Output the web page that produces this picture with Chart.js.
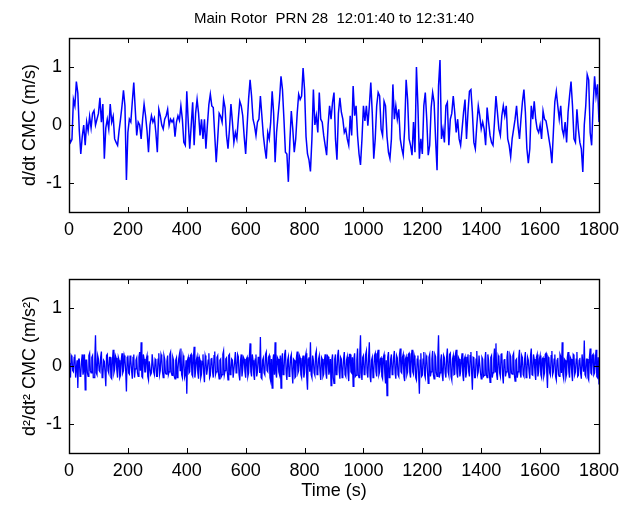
<!DOCTYPE html>
<html>
<head>
<meta charset="utf-8">
<script src="https://cdn.jsdelivr.net/npm/chart.js@4/dist/chart.umd.min.js"></script>
<style>
  body { margin: 0; background: #fff; }
  #wrap { position: relative; width: 634px; height: 506px; background: #fff; }
  canvas { position: absolute; left: 0; }
  #rate-chart { top: 0; }
  #accel-chart { top: 240px; }
</style>
</head>
<body>
<div id="wrap">
  <canvas id="rate-chart" width="634" height="240"></canvas>
  <canvas id="accel-chart" width="634" height="266"></canvas>
</div>
<script>
// Main rotor CMC, PRN 28

var rateStep = 5;    // seconds between readings, top panel
var accelStep = 2.5; // seconds between readings, bottom panel
var xTicks = [0, 200, 400, 600, 800, 1000, 1200, 1400, 1600, 1800];
var yTicks = [-1, 0, 1];

// d/dt CMC (m/s)
var rateValues = [
  -0.2, -0.3, -0.25, 0.44, 0.33, 0.75, 0.55, -0.1, -0.5, -0.2, 0.0, -0.35, 0.05, -0.1, 0.15, -0.05, 0.2, 0.25, 0.0, 0.1,
  0.2, 0.47, 0.05, 0.36, -0.58, -0.05, 0.1, -0.07, 0.36, 0.05, 0.15, -0.24, -0.3, -0.35, -0.1, 0.1, 0.33, 0.6, 0.33, -0.95,
  -0.13, 0.1, 0.05, 0.4, 0.73, 0.27, -0.18, 0.05, 0.0, -0.24, 0.1, 0.36, 0.16, -0.1, -0.47, 0.0, 0.16, 0.05, 0.12, -0.13,
  -0.47, 0.27, 0.16, 0.0, -0.07, 0.1, 0.16, 0.27, -0.01, 0.1, 0.05, 0.1, -0.2, 0.05, 0.16, 0.08, 0.33, 0.1, -0.3, -0.35,
  0.58, 0.05, -0.41, -0.01, 0.39, -0.35, 0.2, 0.44, 0.2, -0.18, 0.1, -0.24, 0.1, -0.41, 0.0, 0.35, 0.53, 0.33, 0.3, -0.18,
  -0.64, -0.24, 0.2, 0.15, 0.05, 0.44, 0.3, -0.18, -0.41, -0.07, 0.36, 0.05, -0.3, -0.13, -0.24, 0.1, 0.41, 0.33, 0.16, -0.2,
  -0.5, -0.01, 0.45, 0.78, 0.5, 0.1, -0.01, -0.18, 0.05, 0.1, 0.5, 0.16, -0.18, -0.4, -0.58, -0.13, -0.24, 0.05, 0.58, 0.2,
  -0.64, -0.13, 0.16, 0.44, 0.84, 0.61, 0.1, -0.47, -0.5, -0.98, -0.3, 0.24, -0.07, -0.47, -0.24, 0.2, 0.53, 0.44, 0.5, 0.98,
  0.61, -0.2, -0.5, -0.6, -0.8, -0.24, 0.61, 0.0, 0.16, -0.13, 0.56, 0.1, 0.05, -0.18, -0.35, -0.52, 0.0, 0.33, 0.1, 0.39,
  0.56, -0.24, -0.6, 0.2, 0.47, 0.22, 0.1, -0.13, -0.07, -0.24, -0.35, 0.16, -0.18, 0.67, 0.16, 0.33, -0.18, -0.5, -0.69, -0.24,
  0.33, 0.07, 0.33, -0.01, 0.33, 0.73, 0.2, -0.58, -0.24, 0.33, 0.56, 0.5, -0.07, -0.18, 0.41, 0.33, -0.2, -0.47, -0.58, -0.24,
  0.7, 0.1, 0.33, 0.1, 0.27, -0.24, -0.4, -0.52, -0.07, 0.78, 0.44, -0.24, -0.35, -0.52, 0.05, -0.47, 1.0, 0.33, -0.58, -0.24,
  -0.5, 0.33, 0.56, 0.1, -0.52, -0.35, 0.3, 0.56, 0.39, -0.24, -0.78, 0.67, 1.12, -0.24, -0.07, -0.3, 0.33, 0.39, -0.35, 0.1,
  0.2, 0.5, 0.22, -0.13, 0.1, -0.24, -0.35, -0.07, 0.22, 0.44, -0.24, 0.22, 0.58, 0.61, 0.22, -0.3, -0.41, 0.0, 0.33, 0.16,
  -0.07, 0.05, -0.07, -0.35, 0.3, 0.05, -0.18, -0.3, -0.35, 0.05, 0.5, 0.22, -0.07, -0.18, 0.16, 0.33, 0.16, 0.33, -0.24, -0.35,
  -0.55, -0.24, -0.07, 0.1, 0.33, -0.01, -0.24, 0.1, 0.4, 0.61, 0.22, -0.4, -0.66, -0.41, 0.33, 0.1, 0.41, 0.1, -0.07, -0.13,
  0.0, -0.24, 0.24, 0.1, 0.07, -0.07, -0.24, -0.4, -0.66, -0.13, 0.4, 0.58, 0.33, 0.1, 0.33, -0.07, -0.18, 0.05, -0.3, 0.22,
  0.5, 0.75, 0.33, -0.24, -0.3, 0.27, -0.07, -0.3, -0.41, -0.81, 0.0, 0.33, 0.87, 0.78, -0.13, -0.35, 0.33, 0.84, 0.5, 0.7,
  0.05
];

// d2/dt2 CMC (m/s^2), one row per 100 s
var accelValues = [
  0.05, -0.12, -0.2, 0.18, 0.15, -0.08, -0.1, 0.15, 0.2, -0.2, -0.05, 0.1, -0.38, 0.12, 0.12, -0.18, -0.15, 0.08, 0.2, -0.15,
  -0.08, 0.2, -0.41, 0.1, 0.1, -0.12, -0.18, 0.18, 0.22, -0.08, -0.12, 0.15, 0.18, -0.2, -0.2, 0.1, 0.53, -0.12, -0.15, 0.18,
  0.12, -0.08, -0.1, 0.15, 0.25, -0.2, -0.18, 0.1, 0.08, -0.12, -0.35, 0.18, 0.2, -0.08, -0.12, 0.15, 0.15, -0.2, -0.22, 0.1,
  0.28, -0.12, -0.06, 0.18, 0.14, -0.08, -0.2, 0.15, 0.1, -0.2, -0.16, 0.1, 0.22, -0.12, -0.08, 0.18, 0.12, -0.08, -0.44, 0.15,
  0.18, -0.12, -0.14, 0.18, 0.1, -0.08, -0.22, 0.15, 0.2, -0.2, -0.05, 0.1, 0.14, -0.12, -0.18, 0.15, 0.24, -0.08, 0.41, -0.18,
  -0.2, 0.2, 0.12, -0.1, -0.1, 0.12, 0.18, -0.18, -0.24, 0.08, 0.08, -0.15, -0.12, 0.2, 0.2, -0.1, -0.15, 0.12, 0.1, -0.18,
  -0.18, 0.12, 0.22, -0.15, -0.08, 0.2, 0.15, -0.1, -0.2, 0.18, 0.12, -0.12, -0.14, 0.08, 0.18, -0.15, -0.1, 0.2, 0.24, -0.12,
  -0.16, 0.15, 0.1, -0.18, -0.22, 0.1, 0.14, -0.2, -0.06, 0.12, 0.2, -0.08, 0.3, -0.15, -0.2, 0.18, 0.12, -0.2, -0.15, 0.1,
  -0.48, 0.1, 0.15, -0.12, -0.1, 0.18, 0.2, -0.15, -0.18, 0.12, 0.33, -0.2, -0.08, 0.1, 0.16, -0.12, -0.22, 0.15, 0.1, -0.2,
  -0.14, 0.08, 0.2, -0.12, -0.28, 0.18, 0.12, -0.15, -0.06, 0.1, 0.22, -0.2, -0.16, 0.12, 0.14, -0.1, -0.2, 0.18, 0.25, -0.15,
  -0.1, 0.15, 0.18, -0.12, -0.22, 0.1, 0.12, -0.18, -0.15, 0.2, 0.26, -0.15, -0.08, 0.12, 0.14, -0.1, -0.24, 0.18, 0.2, -0.15,
  -0.12, 0.12, 0.1, -0.2, -0.2, 0.08, 0.24, -0.12, -0.1, 0.2, 0.16, -0.15, -0.25, 0.1, 0.2, -0.18, -0.06, 0.15, 0.12, -0.1,
  -0.2, 0.12, 0.15, -0.18, -0.12, 0.15, 0.39, -0.1, -0.18, 0.2, 0.1, -0.15, -0.24, 0.12, 0.2, -0.18, -0.1, 0.15, 0.16, -0.12,
  0.5, -0.2, -0.22, 0.1, 0.14, -0.12, -0.15, 0.2, 0.24, -0.08, -0.1, 0.15, 0.18, -0.2, -0.26, 0.12, -0.38, 0.1, 0.2, -0.15,
  0.41, -0.12, -0.2, 0.15, 0.12, -0.1, -0.15, 0.18, -0.38, 0.12, 0.22, -0.15, -0.1, 0.2, 0.28, -0.12, -0.24, 0.1, 0.16, -0.18,
  -0.12, 0.15, 0.2, -0.1, -0.3, 0.12, 0.1, -0.2, -0.18, 0.15, 0.25, -0.12, -0.08, 0.18, 0.14, -0.15, -0.2, 0.1, 0.18, -0.2,
  -0.12, 0.15, 0.22, -0.2, -0.41, 0.12, 0.15, -0.1, 0.41, -0.15, -0.2, 0.18, 0.1, -0.12, -0.16, 0.2, 0.26, -0.15, -0.1, 0.12,
  0.18, -0.1, -0.24, 0.15, 0.12, -0.18, -0.14, 0.1, 0.2, -0.12, -0.22, 0.18, 0.16, -0.15, -0.08, 0.12, -0.34, 0.1, 0.2, -0.2,
  -0.3, 0.12, 0.2, -0.15, -0.14, 0.18, 0.28, -0.1, -0.22, 0.15, 0.12, -0.2, -0.1, 0.12, 0.24, -0.15, -0.18, 0.1, 0.16, -0.12,
  -0.26, 0.2, 0.2, -0.1, -0.12, 0.15, -0.35, 0.12, 0.22, -0.18, -0.16, 0.1, 0.3, -0.15, -0.2, 0.2, 0.53, -0.12, -0.24, 0.15,
  0.18, -0.15, -0.14, 0.2, 0.26, -0.12, -0.2, 0.15, 0.41, -0.18, -0.28, 0.1, 0.15, -0.2, -0.12, 0.18, 0.22, -0.1, -0.18, 0.2,
  0.28, -0.15, -0.1, 0.12, 0.14, -0.18, -0.22, 0.15, 0.2, -0.12, -0.3, 0.1, -0.51, 0.15, 0.24, -0.2, -0.16, 0.12, 0.2, -0.15,
  -0.1, 0.15, 0.26, -0.12, -0.22, 0.18, 0.14, -0.15, -0.18, 0.2, 0.3, -0.1, -0.12, 0.15, 0.2, -0.18, -0.26, 0.12, 0.16, -0.15,
  -0.1, 0.2, 0.22, -0.12, -0.2, 0.15, 0.28, -0.1, -0.14, 0.18, 0.12, -0.2, -0.24, 0.12, 0.18, -0.15, -0.48, 0.1, 0.22, -0.18,
  -0.16, 0.12, 0.24, -0.15, -0.2, 0.18, 0.14, -0.1, -0.3, 0.15, 0.2, -0.18, -0.1, 0.12, 0.26, -0.15, -0.22, 0.2, 0.16, -0.12,
  -0.18, 0.15, 0.53, -0.2, -0.12, 0.1, 0.2, -0.15, -0.26, 0.18, 0.14, -0.12, -0.2, 0.15, 0.3, -0.1, -0.16, 0.2, 0.22, -0.18,
  -0.24, 0.12, 0.18, -0.15, -0.14, 0.2, 0.28, -0.12, -0.2, 0.15, 0.12, -0.18, -0.1, 0.1, 0.22, -0.15, -0.26, 0.12, 0.16, -0.2,
  -0.12, 0.15, 0.2, -0.1, -0.18, 0.18, 0.24, -0.12, -0.41, 0.15, 0.14, -0.2, -0.2, 0.12, 0.26, -0.15, -0.1, 0.18, 0.18, -0.12,
  -0.22, 0.15, 0.12, -0.18, -0.16, 0.1, 0.24, -0.15, -0.2, 0.2, 0.1, -0.12, -0.28, 0.15, 0.18, -0.2, -0.12, 0.12, 0.3, -0.1,
  0.39, -0.15, -0.24, 0.18, 0.14, -0.12, -0.18, 0.2, 0.22, -0.15, -0.3, 0.1, 0.12, -0.18, -0.1, 0.15, 0.26, -0.12, -0.2, 0.2,
  0.16, -0.12, -0.14, 0.18, 0.22, -0.15, -0.26, 0.1, 0.12, -0.2, -0.1, 0.15, 0.28, -0.12, -0.2, 0.18, 0.14, -0.15, -0.18, 0.12,
  0.24, -0.2, -0.12, 0.15, 0.1, -0.1, -0.22, 0.18, 0.3, -0.15, -0.16, 0.2, 0.12, -0.12, -0.24, 0.15, 0.2, -0.18, -0.1, 0.12,
  0.18, -0.15, -0.2, 0.12, 0.14, -0.18, -0.12, 0.2, 0.22, -0.1, -0.38, 0.15, 0.12, -0.12, -0.16, 0.18, 0.26, -0.15, -0.1, 0.12,
  0.2, -0.18, -0.24, 0.1, 0.14, -0.15, -0.18, 0.2, 0.16, -0.12, 0.41, -0.15, -0.22, 0.12, 0.1, -0.2, -0.14, 0.15, 0.24, -0.1,
  -0.2, 0.15, 0.12, -0.12, -0.26, 0.2, 0.18, -0.15, -0.1, 0.12, 0.24, -0.18, -0.16, 0.1, 0.14, -0.12, -0.22, 0.2, 0.2, -0.1,
  0.44, -0.15, -0.18, 0.12, 0.12, -0.2, -0.24, 0.15, 0.3, -0.12, -0.14, 0.18, 0.2, -0.15, -0.12, 0.1, 0.28, -0.18, -0.2, 0.15,
  -0.32
];

var FONT = 'Liberation Sans, Arial, Helvetica, sans-serif';

function toPoints(values, step) {
  return values.map(function (v, i) { return { x: i * step, y: v }; });
}

// MATLAB style box with inward ticks on all four sides
var boxPlugin = {
  id: 'box',
  afterDatasetsDraw: function (chart) {
    var a = chart.chartArea;
    var ctx = chart.ctx;
    var xs = chart.scales.x;
    var ys = chart.scales.y;
    var len = 5;
    ctx.save();
    ctx.strokeStyle = '#000';
    ctx.lineWidth = 1;
    ctx.beginPath();
    xTicks.forEach(function (v) {
      var px = Math.round(xs.getPixelForValue(v)) + 0.5;
      ctx.moveTo(px, a.bottom); ctx.lineTo(px, a.bottom - len);
      ctx.moveTo(px, a.top); ctx.lineTo(px, a.top + len);
    });
    yTicks.forEach(function (v) {
      var py = Math.round(ys.getPixelForValue(v)) + 0.5;
      ctx.moveTo(a.left, py); ctx.lineTo(a.left + len, py);
      ctx.moveTo(a.right, py); ctx.lineTo(a.right - len, py);
    });
    ctx.stroke();
    ctx.lineWidth = 1.4;
    ctx.strokeRect(Math.round(a.left) + 0.5, Math.round(a.top) + 0.5,
      Math.round(a.right - a.left), Math.round(a.bottom - a.top));
    ctx.restore();
  }
};

function plainTick(v) { return String(v); }

function makeChart(id, values, step, opts) {
  var ctx = document.getElementById(id);
  return new Chart(ctx, {
    type: 'line',
    data: {
      datasets: [{
        data: toPoints(values, step),
        borderColor: '#0000ff',
        borderWidth: opts.lineWidth,
        pointRadius: 0,
        tension: 0,
        fill: false
      }]
    },
    options: {
      responsive: false,
      animation: false,
      events: [],
      layout: { padding: opts.padding },
      plugins: {
        legend: { display: false },
        tooltip: { enabled: false },
        title: opts.title
      },
      scales: {
        x: {
          type: 'linear',
          min: 0,
          max: 1800,
          afterBuildTicks: function (s) { s.ticks = xTicks.map(function (v) { return { value: v }; }); },
          afterFit: function (s) { s.height = opts.xHeight; },
          grid: { display: false, drawTicks: false },
          border: { display: false },
          ticks: { color: '#000', font: { family: FONT, size: 18 }, padding: 7, maxRotation: 0, autoSkip: false, callback: plainTick },
          title: opts.xTitle
        },
        y: {
          min: -1.5,
          max: 1.5,
          afterBuildTicks: function (s) { s.ticks = yTicks.map(function (v) { return { value: v }; }); },
          afterFit: function (s) { s.width = 69; },
          grid: { display: false, drawTicks: false },
          border: { display: false },
          ticks: { color: '#000', font: { family: FONT, size: 18 }, padding: 7, callback: plainTick },
          title: {
            display: true,
            text: opts.yLabel,
            color: '#000',
            font: { family: FONT, size: 18 },
            padding: { top: 19, bottom: 0 }
          }
        }
      }
    },
    plugins: [boxPlugin]
  });
}

makeChart('rate-chart', rateValues, rateStep, {
  padding: { left: 0, right: 35, top: 0, bottom: 0 },
  xHeight: 28,
  lineWidth: 1.5,
  yLabel: 'd/dt CMC (m/s)',
  xTitle: { display: false },
  title: {
    display: true,
    fullSize: false,
    text: 'Main Rotor  PRN 28  12:01:40 to 12:31:40',
    color: '#000',
    font: { family: FONT, size: 15, weight: 'normal' },
    padding: { top: 10, bottom: 10 }
  }
});

makeChart('accel-chart', accelValues, accelStep, {
  padding: { left: 0, right: 35, top: 39, bottom: 0 },
  xHeight: 53,
  lineWidth: 1.3,
  yLabel: 'd²/dt² CMC (m/s²)',
  xTitle: {
    display: true,
    text: 'Time (s)',
    color: '#000',
    font: { family: FONT, size: 18 },
    padding: { top: 0, bottom: 4 }
  },
  title: { display: false }
});
</script>
</body>
</html>
